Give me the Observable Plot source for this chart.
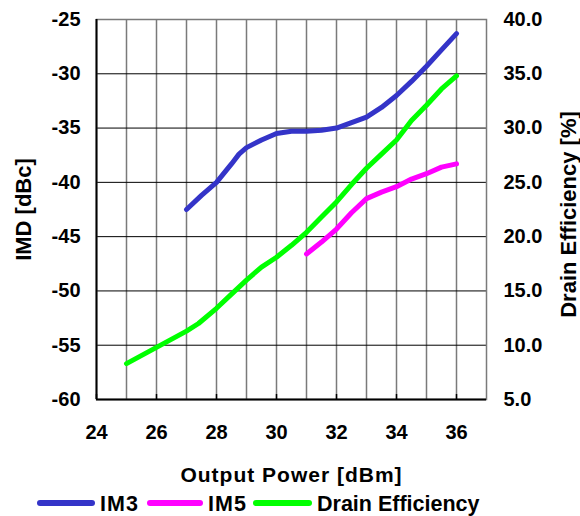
<!DOCTYPE html>
<html>
<head>
<meta charset="utf-8">
<script src="https://cdn.jsdelivr.net/npm/d3@7"></script>
<script src="https://cdn.jsdelivr.net/npm/@observablehq/plot@0.6"></script>
<style>
  body { margin: 0; background: #fff; font-family: "Liberation Sans", Arial, sans-serif; }
  #wrap { position: relative; width: 580px; height: 516px; }
  #chart svg text { font-family: "Liberation Sans", Arial, sans-serif; fill: #000; }
  #chart svg g[aria-label$="tick label"] text { font-size: 20px !important; font-weight: bold !important; }
  #legend { position: absolute; left: 0; top: 490px; width: 580px; height: 26px; font-weight: bold; font-size: 21.5px; }
  .sw { position: absolute; height: 6px; border-radius: 3px; top: 10px; }
  .lt { position: absolute; top: 3px; line-height: 22px; }
</style>
</head>
<body>
<div id="wrap"><div id="chart"></div><div id="legend"></div></div>
<script>
// Output power (dBm) and series values
const im3X = [27, 27.5, 28, 28.5, 28.75, 29, 29.5, 30, 30.5, 31, 31.5, 32, 32.5, 33, 33.5, 34, 34.5, 35, 35.5, 36];
const im3 = [-42.5, -41.2, -40.0, -38.3, -37.4, -36.8, -36.1, -35.5, -35.3, -35.3, -35.2, -35.0, -34.5, -34.0, -33.1, -32.0, -30.7, -29.3, -27.8, -26.3];

const im5X = [31, 31.5, 32, 32.5, 33, 33.5, 34, 34.5, 35, 35.5, 36];
const im5 = [-46.6, -45.5, -44.3, -42.8, -41.5, -40.9, -40.4, -39.7, -39.2, -38.6, -38.3];

const effX = [25, 26, 27, 27.4, 28, 28.5, 29, 29.5, 30, 30.5, 31, 31.5, 32, 32.5, 33, 33.5, 34, 34.5, 35, 35.5, 36];
const eff = [8.3, 9.8, 11.3, 12.0, 13.4, 14.7, 16.0, 17.2, 18.1, 19.2, 20.4, 21.8, 23.2, 24.8, 26.3, 27.6, 28.9, 30.7, 32.1, 33.6, 34.8];

// Tick labels
const xTicks = [24, 26, 28, 30, 32, 34, 36];
const xGrid = [25, 26, 27, 28, 29, 30, 31, 32, 33, 34, 35, 36];
const imdTicks = [-60, -55, -50, -45, -40, -35, -30, -25];
const effTicks = [5, 10, 15, 20, 25, 30, 35, 40];

const series = [
  {name: "IM3", color: "#3434C8"},
  {name: "IM5", color: "#FF00FF"},
  {name: "Drain Efficiency", color: "#00FF00"}
];

// Right axis aligns 40.0 % with -25 dBc and 5.0 % with -60 dBc
const effOffset = 65;

const im3Data = im3X.map((x, i) => ({x, y: im3[i]}));
const im5Data = im5X.map((x, i) => ({x, y: im5[i]}));
const effData = effX.map((x, i) => ({x, y: eff[i] - effOffset}));

const font = {fontSize: 22, fontWeight: "bold", fill: "#000"};

const chart = Plot.plot({
  width: 580,
  height: 490,
  marginTop: 19,
  marginBottom: 91,
  marginLeft: 96,
  marginRight: 94,
  style: {fontFamily: "'Liberation Sans', Arial, sans-serif", color: "#000", background: "#fff"},
  x: {domain: [24, 37]},
  y: {domain: [-60, -25]},
  marks: [
    Plot.gridX(xGrid, {stroke: "#7a7a7a", strokeOpacity: 1, strokeWidth: 1.5}),
    Plot.gridY(imdTicks, {stroke: "#000", strokeOpacity: 1, strokeWidth: 1}),
    Plot.frame({stroke: "#7a7a7a", strokeWidth: 1.5}),
    Plot.axisX({ticks: xTicks, tickSize: -5, tickFormat: () => "", label: null, stroke: "#000", strokeWidth: 1.5}),
    Plot.axisX({ticks: xTicks, tickSize: 0, tickPadding: 25, label: null, tickFormat: d => String(d)}),
    Plot.axisY({ticks: imdTicks, tickSize: 0, tickPadding: 16, label: null, tickFormat: d => String(d)}),
    Plot.axisY({ticks: effTicks.map(d => d - effOffset), anchor: "right", tickSize: 0, tickPadding: 17, label: null,
      tickFormat: d => (d + effOffset).toFixed(1)}),
    Plot.ruleX([24], {stroke: "#000", strokeWidth: 2}),
    Plot.ruleY([-60], {stroke: "#000", strokeWidth: 2}),
    Plot.line(im3Data, {x: "x", y: "y", stroke: series[0].color, strokeWidth: 5, strokeLinecap: "round", strokeLinejoin: "round"}),
    Plot.line(im5Data, {x: "x", y: "y", stroke: series[1].color, strokeWidth: 5, strokeLinecap: "round", strokeLinejoin: "round"}),
    Plot.line(effData, {x: "x", y: "y", stroke: series[2].color, strokeWidth: 5, strokeLinecap: "round", strokeLinejoin: "round"}),
    Plot.text(["Output Power [dBm]"], {frameAnchor: "bottom", dy: 76, lineAnchor: "middle", textAnchor: "middle", ...font, fontSize: 21}),
    Plot.text(["IMD [dBc]"], {frameAnchor: "left", dx: -73, rotate: -90, lineAnchor: "middle", textAnchor: "middle", ...font}),
    Plot.text(["Drain Efficiency [%]"], {frameAnchor: "right", dx: 82, dy: 5, rotate: -90, lineAnchor: "middle", textAnchor: "middle", ...font})
  ]
});
d3.select(chart).selectAll("text").filter(function() { return this.textContent === "Output Power [dBm]"; })
  .style("letter-spacing", "1px");
document.getElementById("chart").appendChild(chart);

// Legend
const legend = document.getElementById("legend");
const legendPos = [{sx: 37, sw: 58, tx: 100, ls: 1}, {sx: 147, sw: 56, tx: 208, ls: 1}, {sx: 253, sw: 59, tx: 317, ls: 0}];
series.forEach((s, i) => {
  const p = legendPos[i];
  const sw = document.createElement("div");
  sw.className = "sw";
  sw.style.left = p.sx + "px";
  sw.style.width = p.sw + "px";
  sw.style.background = s.color;
  legend.appendChild(sw);
  const t = document.createElement("div");
  t.className = "lt";
  t.style.left = p.tx + "px";
  t.style.letterSpacing = p.ls + "px";
  t.textContent = s.name;
  legend.appendChild(t);
});
</script>
</body>
</html>
